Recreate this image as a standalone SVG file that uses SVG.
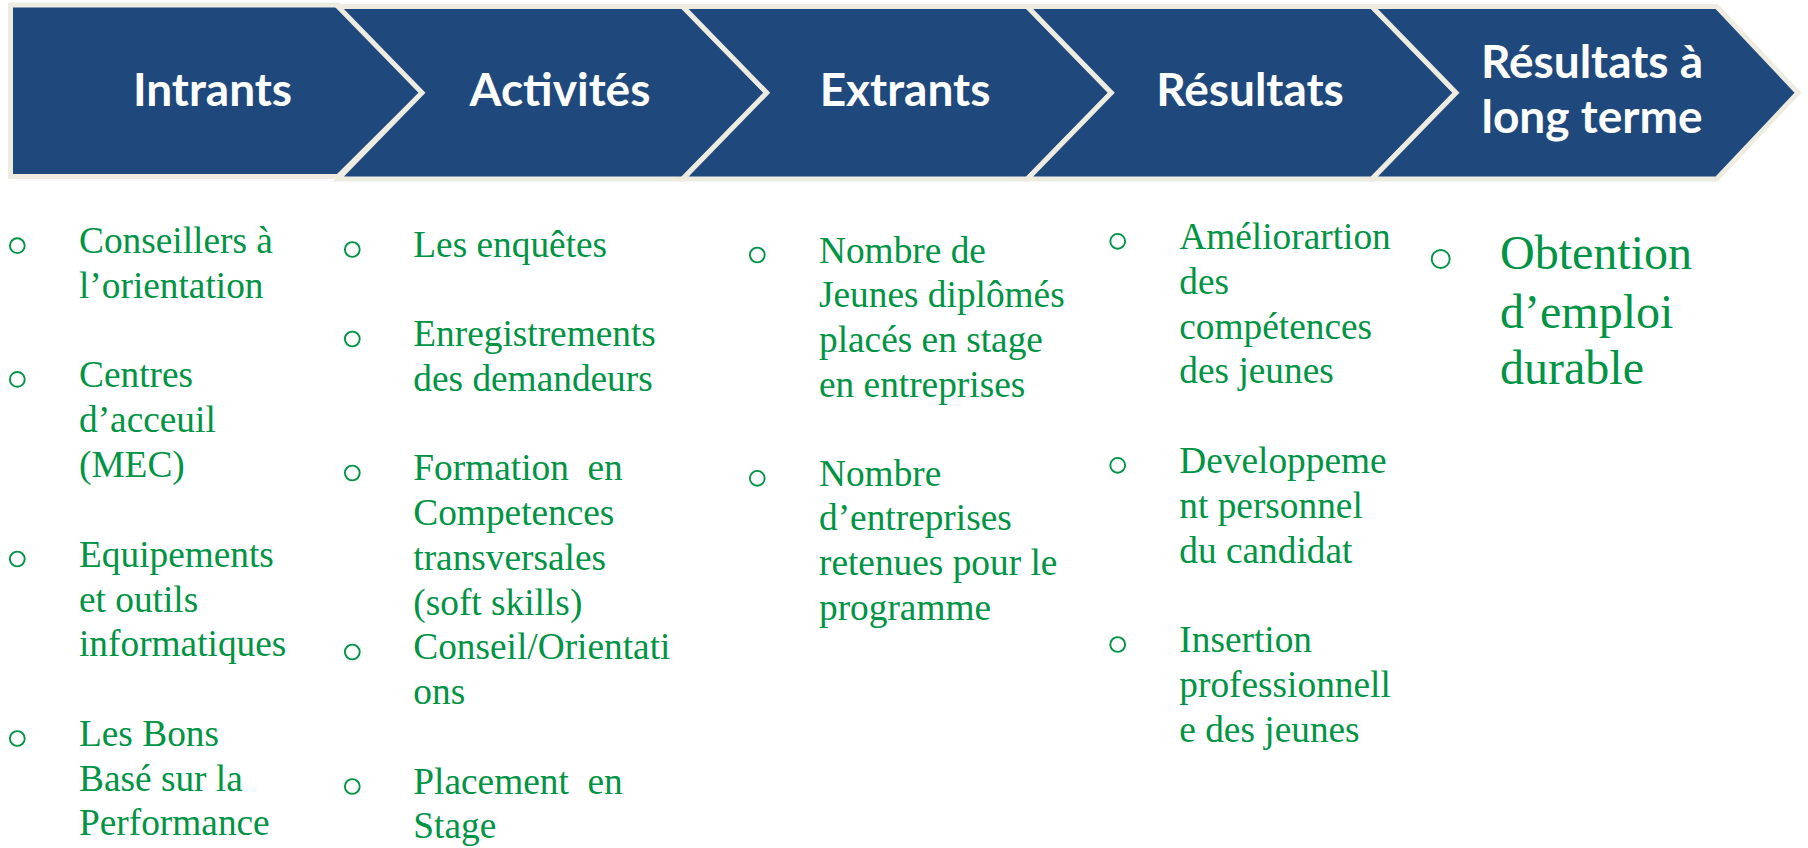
<svg xmlns="http://www.w3.org/2000/svg" width="1808" height="848" viewBox="0 0 1808 848">
<style>
.shape{fill:#1F497D;stroke:#EEECE1;stroke-width:5;stroke-linejoin:miter}
.hd{font-family:Lato,"Open Sans","Liberation Sans",sans-serif;font-weight:700;font-size:46px;fill:#FFFFFF;text-anchor:middle}
.tx{font-family:"Liberation Serif","Times New Roman",serif;font-size:37.33px;fill:#009444}
.big{font-size:48px}
.pre{white-space:pre}
.bl{fill:none;stroke:#009444;stroke-width:1.9}
</style>
<rect width="1808" height="848" fill="#FFFFFF"/>
<g id="connectors"></g>
<g id="node-intrants">
<path class="shape" d="M10.5,5 H338 L424,91 L338,176.5 H10.5 Z"/>
<text class="hd" x="212.5" y="106">Intrants</text>
</g>
<g id="node-activites">
<path class="shape" d="M338,6.5 H682.7 L767,92.75 L682.7,179 H338 L422,92.75 Z"/>
<text class="hd" x="560" y="106">Activités</text>
</g>
<g id="node-extrants">
<path class="shape" d="M682.7,6.5 H1027.3 L1111.5,92.75 L1027.3,179 H682.7 L766.7,92.75 Z"/>
<text class="hd" x="905" y="106">Extrants</text>
</g>
<g id="node-resultats">
<path class="shape" d="M1027.3,6.5 H1372 L1456,92.75 L1372,179 H1027.3 L1111.3,92.75 Z"/>
<text class="hd" x="1250" y="106">Résultats</text>
</g>
<g id="node-long-terme">
<path class="shape" d="M1372,6.5 H1716.7 L1798,92.75 L1716.7,179 H1372 L1456,92.75 Z"/>
<text class="hd" x="1592" y="78">Résultats à</text>
<text class="hd" x="1592" y="133">long terme</text>
</g>
<g id="list-intrants">
<circle class="bl" cx="17.3" cy="245.7" r="7.4"/>
<circle class="bl" cx="17.3" cy="379.4" r="7.4"/>
<circle class="bl" cx="17.3" cy="559" r="7.4"/>
<circle class="bl" cx="17.3" cy="738.5" r="7.4"/>
<text class="tx" x="79" y="253.3">Conseillers à</text>
<text class="tx" x="79" y="297.8">l’orientation</text>
<text class="tx" x="79" y="387">Centres</text>
<text class="tx" x="79" y="432">d’acceuil</text>
<text class="tx" x="79" y="477">(MEC)</text>
<text class="tx" x="79" y="566.7">Equipements</text>
<text class="tx" x="79" y="611.5">et outils</text>
<text class="tx" x="79" y="656.3">informatiques</text>
<text class="tx" x="79" y="746">Les Bons</text>
<text class="tx" x="79" y="790.7">Basé sur la</text>
<text class="tx" x="79" y="835.4">Performance</text>
</g>
<g id="list-activites">
<circle class="bl" cx="352.3" cy="249.5" r="7.4"/>
<circle class="bl" cx="352.3" cy="339" r="7.4"/>
<circle class="bl" cx="352.3" cy="473" r="7.4"/>
<circle class="bl" cx="352.3" cy="652" r="7.4"/>
<circle class="bl" cx="352.3" cy="786.5" r="7.4"/>
<text class="tx" x="413.3" y="256.5">Les enquêtes</text>
<text class="tx" x="413.3" y="346">Enregistrements</text>
<text class="tx" x="413.3" y="390.75">des demandeurs</text>
<text class="tx pre" x="413.3" y="480.25">Formation  en</text>
<text class="tx" x="413.3" y="525">Competences</text>
<text class="tx" x="413.3" y="569.75">transversales</text>
<text class="tx" x="413.3" y="614.5">(soft skills)</text>
<text class="tx" x="413.3" y="659.25">Conseil/Orientati</text>
<text class="tx" x="413.3" y="704">ons</text>
<text class="tx pre" x="413.3" y="793.5">Placement  en</text>
<text class="tx" x="413.3" y="838.25">Stage</text>
</g>
<g id="list-extrants">
<circle class="bl" cx="757.3" cy="255" r="7.4"/>
<circle class="bl" cx="757.3" cy="478.3" r="7.4"/>
<text class="tx" x="819" y="262.7">Nombre de</text>
<text class="tx" x="819" y="307.3">Jeunes diplômés</text>
<text class="tx" x="819" y="351.9">placés en stage</text>
<text class="tx" x="819" y="396.5">en entreprises</text>
<text class="tx" x="819" y="485.7">Nombre</text>
<text class="tx" x="819" y="530.3">d’entreprises</text>
<text class="tx" x="819" y="574.9">retenues pour le</text>
<text class="tx" x="819" y="619.5">programme</text>
</g>
<g id="list-resultats">
<circle class="bl" cx="1117.7" cy="241.3" r="7.4"/>
<circle class="bl" cx="1117.7" cy="465.3" r="7.4"/>
<circle class="bl" cx="1117.7" cy="644.5" r="7.4"/>
<text class="tx" x="1179.3" y="248.9">Améliorartion</text>
<text class="tx" x="1179.3" y="293.7">des</text>
<text class="tx" x="1179.3" y="338.5">compétences</text>
<text class="tx" x="1179.3" y="383.3">des jeunes</text>
<text class="tx" x="1179.3" y="472.9">Developpeme</text>
<text class="tx" x="1179.3" y="517.7">nt personnel</text>
<text class="tx" x="1179.3" y="562.5">du candidat</text>
<text class="tx" x="1179.3" y="652.1">Insertion</text>
<text class="tx" x="1179.3" y="696.9">professionnell</text>
<text class="tx" x="1179.3" y="741.7">e des jeunes</text>
</g>
<g id="list-long-terme">
<circle class="bl" cx="1440.7" cy="259" r="9" stroke-width="2.3"/>
<text class="tx big" x="1500" y="269.3">Obtention</text>
<text class="tx big" x="1500" y="327.7">d’emploi</text>
<text class="tx big" x="1500" y="384.3">durable</text>
</g>
</svg>
